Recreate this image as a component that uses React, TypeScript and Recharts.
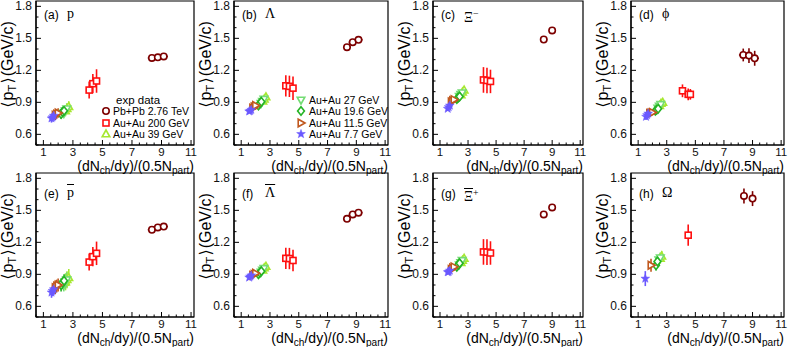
import React from 'react';
import { ScatterChart, Scatter, XAxis, YAxis, ErrorBar, ReferenceArea } from 'recharts';

// [system, x, y, ex, ey]
type Row = [string, number, number, number, number];

const SYSTEMS = ['pb', 'au200', 'au39', 'au27', 'au196', 'au115', 'au77'];
const SYS_LABELS: Record<string, string> = {
  pb: 'Pb+Pb 2.76 TeV',
  au200: 'Au+Au 200 GeV',
  au39: 'Au+Au 39 GeV',
  au27: 'Au+Au 27 GeV',
  au196: 'Au+Au 19.6 GeV',
  au115: 'Au+Au 11.5 GeV',
  au77: 'Au+Au 7.7 GeV',
};
const SYS_COLORS: Record<string, string> = {
  pb: '#7d0000',
  au200: '#ff1010',
  au39: '#a6e830',
  au27: '#74dc74',
  au196: '#24b424',
  au115: '#c0581e',
  au77: '#6a58ff',
};
const SYS_MARKERS: Record<string, string> = {
  pb: 'circle',
  au200: 'square',
  au39: 'triUp',
  au27: 'triDown',
  au196: 'diamond',
  au115: 'triRight',
  au77: 'star',
};

const PROTON: Row[] = [
  ['pb', 8.35, 1.316, 0.28, 0.02], ['pb', 8.75, 1.322, 0.28, 0.02], ['pb', 9.15, 1.33, 0.28, 0.02],
  ['au200', 4.1, 1.015, 0.22, 0.08], ['au200', 4.35, 1.075, 0.22, 0.09], ['au200', 4.6, 1.1, 0.22, 0.11],
  ['au39', 2.5, 0.82, 0.08, 0.05], ['au39', 2.6, 0.84, 0.08, 0.05], ['au39', 2.72, 0.86, 0.08, 0.05],
  ['au27', 2.38, 0.8, 0.08, 0.05], ['au27', 2.48, 0.82, 0.08, 0.05], ['au27', 2.58, 0.84, 0.08, 0.05],
  ['au196', 2.2, 0.79, 0.08, 0.045], ['au196', 2.3, 0.81, 0.08, 0.045], ['au196', 2.4, 0.82, 0.08, 0.045],
  ['au115', 1.8, 0.78, 0.07, 0.045], ['au115', 1.9, 0.79, 0.07, 0.045], ['au115', 2.0, 0.8, 0.07, 0.045],
  ['au77', 1.55, 0.75, 0.07, 0.04], ['au77', 1.62, 0.76, 0.07, 0.04], ['au77', 1.7, 0.775, 0.07, 0.04],
];

const LAMBDA: Row[] = [
  ['pb', 8.35, 1.417, 0.28, 0.015], ['pb', 8.75, 1.464, 0.28, 0.015], ['pb', 9.15, 1.486, 0.28, 0.015],
  ['au200', 4.1, 1.055, 0.22, 0.1], ['au200', 4.35, 1.05, 0.22, 0.1], ['au200', 4.6, 1.033, 0.22, 0.11],
  ['au39', 2.5, 0.91, 0.08, 0.015], ['au39', 2.6, 0.93, 0.08, 0.015], ['au39', 2.72, 0.95, 0.08, 0.015],
  ['au27', 2.38, 0.89, 0.08, 0.015], ['au27', 2.48, 0.91, 0.08, 0.015], ['au27', 2.58, 0.93, 0.08, 0.015],
  ['au196', 2.2, 0.87, 0.08, 0.015], ['au196', 2.3, 0.89, 0.08, 0.015], ['au196', 2.4, 0.905, 0.08, 0.015],
  ['au115', 1.8, 0.845, 0.07, 0.015], ['au115', 1.9, 0.857, 0.07, 0.015], ['au115', 2.0, 0.87, 0.07, 0.015],
  ['au77', 1.55, 0.815, 0.07, 0.015], ['au77', 1.62, 0.82, 0.07, 0.015], ['au77', 1.7, 0.83, 0.07, 0.015],
];

const XI_MINUS: Row[] = [
  ['pb', 8.4, 1.489, 0.25, 0.02], ['pb', 9.0, 1.574, 0.25, 0.02],
  ['au200', 4.1, 1.11, 0.22, 0.12], ['au200', 4.35, 1.105, 0.22, 0.12], ['au200', 4.6, 1.096, 0.22, 0.11],
  ['au39', 2.5, 0.97, 0.08, 0.02], ['au39', 2.6, 0.995, 0.08, 0.02], ['au39', 2.72, 1.015, 0.08, 0.02],
  ['au27', 2.38, 0.955, 0.08, 0.02], ['au27', 2.48, 0.975, 0.08, 0.02], ['au27', 2.58, 0.99, 0.08, 0.02],
  ['au196', 2.2, 0.93, 0.08, 0.02], ['au196', 2.3, 0.945, 0.08, 0.02], ['au196', 2.4, 0.955, 0.08, 0.02],
  ['au115', 1.8, 0.905, 0.07, 0.02], ['au115', 1.9, 0.915, 0.07, 0.02], ['au115', 2.0, 0.925, 0.07, 0.02],
  ['au77', 1.55, 0.84, 0.07, 0.02], ['au77', 1.62, 0.855, 0.07, 0.02], ['au77', 1.7, 0.87, 0.07, 0.02],
];

const PHI: Row[] = [
  ['pb', 8.35, 1.344, 0.3, 0.06], ['pb', 8.75, 1.338, 0.3, 0.07], ['pb', 9.15, 1.313, 0.3, 0.07],
  ['au200', 4.1, 1.008, 0.2, 0.06], ['au200', 4.5, 0.975, 0.2, 0.055], ['au200', 4.65, 0.975, 0.2, 0.05],
  ['au39', 2.5, 0.87, 0.08, 0.025], ['au39', 2.6, 0.89, 0.08, 0.025], ['au39', 2.72, 0.9, 0.08, 0.025],
  ['au27', 2.38, 0.845, 0.08, 0.025], ['au27', 2.48, 0.865, 0.08, 0.025], ['au27', 2.58, 0.88, 0.08, 0.025],
  ['au196', 2.2, 0.82, 0.08, 0.025], ['au196', 2.3, 0.83, 0.08, 0.025], ['au196', 2.4, 0.84, 0.08, 0.025],
  ['au115', 1.8, 0.795, 0.07, 0.02], ['au115', 1.9, 0.8, 0.07, 0.02], ['au115', 2.0, 0.805, 0.07, 0.02],
  ['au77', 1.55, 0.765, 0.07, 0.03], ['au77', 1.62, 0.78, 0.07, 0.03], ['au77', 1.7, 0.795, 0.07, 0.03],
];

const PBAR: Row[] = [
  ['pb', 8.35, 1.318, 0.28, 0.02], ['pb', 8.75, 1.34, 0.28, 0.02], ['pb', 9.15, 1.348, 0.28, 0.02],
  ['au200', 4.1, 1.015, 0.22, 0.08], ['au200', 4.35, 1.066, 0.22, 0.09], ['au200', 4.6, 1.097, 0.22, 0.11],
  ['au39', 2.5, 0.83, 0.08, 0.08], ['au39', 2.6, 0.85, 0.08, 0.08], ['au39', 2.72, 0.87, 0.08, 0.08],
  ['au27', 2.38, 0.81, 0.08, 0.07], ['au27', 2.48, 0.83, 0.08, 0.07], ['au27', 2.58, 0.85, 0.08, 0.07],
  ['au196', 2.2, 0.8, 0.08, 0.06], ['au196', 2.3, 0.82, 0.08, 0.06], ['au196', 2.4, 0.84, 0.08, 0.06],
  ['au115', 1.8, 0.775, 0.07, 0.06], ['au115', 1.9, 0.79, 0.07, 0.06], ['au115', 2.0, 0.8, 0.07, 0.06],
  ['au77', 1.55, 0.73, 0.07, 0.05], ['au77', 1.62, 0.745, 0.07, 0.05], ['au77', 1.7, 0.76, 0.07, 0.05],
];

const LAMBDA_BAR: Row[] = [
  ['pb', 8.35, 1.42, 0.28, 0.015], ['pb', 8.75, 1.462, 0.28, 0.015], ['pb', 9.15, 1.478, 0.28, 0.015],
  ['au200', 4.1, 1.05, 0.22, 0.1], ['au200', 4.35, 1.048, 0.22, 0.1], ['au200', 4.6, 1.03, 0.22, 0.1],
  ['au39', 2.5, 0.94, 0.08, 0.02], ['au39', 2.6, 0.96, 0.08, 0.02], ['au39', 2.72, 0.975, 0.08, 0.02],
  ['au27', 2.38, 0.92, 0.08, 0.02], ['au27', 2.48, 0.94, 0.08, 0.02], ['au27', 2.58, 0.955, 0.08, 0.02],
  ['au196', 2.2, 0.9, 0.08, 0.02], ['au196', 2.3, 0.915, 0.08, 0.02], ['au196', 2.4, 0.93, 0.08, 0.02],
  ['au115', 1.8, 0.89, 0.07, 0.02], ['au115', 1.9, 0.9, 0.07, 0.02], ['au115', 2.0, 0.91, 0.07, 0.02],
  ['au77', 1.55, 0.87, 0.07, 0.02], ['au77', 1.62, 0.88, 0.07, 0.02], ['au77', 1.7, 0.89, 0.07, 0.02],
];

const XI_BAR: Row[] = [
  ['pb', 8.4, 1.462, 0.25, 0.02], ['pb', 9.0, 1.527, 0.25, 0.02],
  ['au200', 4.1, 1.11, 0.22, 0.12], ['au200', 4.35, 1.108, 0.22, 0.12], ['au200', 4.6, 1.1, 0.22, 0.11],
  ['au39', 2.5, 1.01, 0.08, 0.02], ['au39', 2.6, 1.03, 0.08, 0.02], ['au39', 2.72, 1.05, 0.08, 0.02],
  ['au27', 2.38, 0.99, 0.08, 0.02], ['au27', 2.48, 1.01, 0.08, 0.02], ['au27', 2.58, 1.03, 0.08, 0.02],
  ['au196', 2.2, 0.97, 0.08, 0.02], ['au196', 2.3, 0.99, 0.08, 0.02], ['au196', 2.4, 1.005, 0.08, 0.02],
  ['au115', 1.8, 0.945, 0.07, 0.02], ['au115', 1.9, 0.96, 0.07, 0.02], ['au115', 2.0, 0.97, 0.07, 0.02],
  ['au77', 1.55, 0.92, 0.07, 0.02], ['au77', 1.62, 0.925, 0.07, 0.02], ['au77', 1.7, 0.935, 0.07, 0.02],
];

const OMEGA: Row[] = [
  ['pb', 8.4, 1.635, 0.25, 0.07], ['pb', 9.0, 1.61, 0.25, 0.07],
  ['au200', 4.5, 1.267, 0.15, 0.1],
  ['au39', 2.55, 1.05, 0.06, 0.05], ['au39', 2.65, 1.07, 0.06, 0.05],
  ['au27', 2.45, 1.035, 0.06, 0.05], ['au27', 2.55, 1.055, 0.06, 0.05],
  ['au196', 2.25, 0.985, 0.06, 0.05], ['au196', 2.35, 1.02, 0.06, 0.05],
  ['au115', 1.9, 0.985, 0.06, 0.06],
  ['au77', 1.5, 0.86, 0.06, 0.07],
];

const PANELS = [PROTON, LAMBDA, XI_MINUS, PHI, PBAR, LAMBDA_BAR, XI_BAR, OMEGA];
const PANEL_TAGS = ['(a)', '(b)', '(c)', '(d)', '(e)', '(f)', '(g)', '(h)'];

const X_DOMAIN: [number, number] = [0.5, 11.2];
const Y_DOMAIN: [number, number] = [0.5, 1.85];
const X_MAJOR = [1, 3, 5, 7, 9, 11];
const Y_MAJOR = [0.6, 0.9, 1.2, 1.5, 1.8];

const LEGEND_A = ['pb', 'au200', 'au39'];
const LEGEND_B = ['au27', 'au196', 'au115', 'au77'];

// layout
const PLOT_LEFT = [36, 234, 433, 631];
const PLOT_RIGHT = [194, 388, 583, 784];
const PLOT_TOP = [1, 173];
const PLOT_H = 144;
const Y_AXIS_W = 40;
const X_AXIS_H = 30;
const PAD_TOP = 5;
const PAD_RIGHT = 4;

const SANS = '"Liberation Sans", Arial, "DejaVu Sans", sans-serif';
const SERIF = '"Liberation Serif", "DejaVu Serif", serif';

function steps(a: number, b: number, s: number) {
  const out: number[] = [];
  for (let v = a; v <= b + 1e-9; v += s) out.push(Math.round(v * 1000) / 1000);
  return out;
}
const X_TICKS = steps(0.5, 11, 0.5);
const Y_TICKS = steps(0.5, 1.8, 0.1);
const isMajor = (v: number, list: number[]) => list.some((m) => Math.abs(m - v) < 1e-6);

function renderMarker(kind: string, cx: number, cy: number, color: string) {
  const sw = 1.6;
  switch (kind) {
    case 'circle':
      return <circle cx={cx} cy={cy} r={3.2} fill="#fff" stroke={color} strokeWidth={sw} />;
    case 'square':
      return <rect x={cx - 3} y={cy - 3} width={6} height={6} fill="#fff" stroke={color} strokeWidth={sw} />;
    case 'triUp':
      return <polygon points={`${cx},${cy - 4} ${cx - 3.8},${cy + 2.8} ${cx + 3.8},${cy + 2.8}`} fill="#fff" stroke={color} strokeWidth={sw} />;
    case 'triDown':
      return <polygon points={`${cx},${cy + 4} ${cx - 3.8},${cy - 2.8} ${cx + 3.8},${cy - 2.8}`} fill="#fff" stroke={color} strokeWidth={sw} />;
    case 'diamond':
      return <polygon points={`${cx},${cy - 4.2} ${cx + 3.4},${cy} ${cx},${cy + 4.2} ${cx - 3.4},${cy}`} fill="#fff" stroke={color} strokeWidth={sw} />;
    case 'triRight':
      return <polygon points={`${cx + 4},${cy} ${cx - 2.8},${cy - 3.8} ${cx - 2.8},${cy + 3.8}`} fill="#fff" stroke={color} strokeWidth={sw} />;
    default: {
      const pts: string[] = [];
      for (let k = 0; k < 10; k++) {
        const r = k % 2 === 0 ? 4.6 : 1.9;
        const a = -Math.PI / 2 + (k * Math.PI) / 5;
        pts.push(`${cx + r * Math.cos(a)},${cy + r * Math.sin(a)}`);
      }
      return <polygon points={pts.join(' ')} fill={color} stroke={color} strokeWidth={0.5} />;
    }
  }
}

const XTick = (props: any) => {
  const { x, y, payload } = props;
  const major = isMajor(payload.value, X_MAJOR);
  return (
    <g>
      <line x1={x} x2={x} y1={y} y2={y - (major ? 5 : 2.5)} stroke="#000" strokeWidth={1} />
      {major && (
        <text x={x} y={y + 11} textAnchor="middle" fontSize={11.5} fontFamily={SANS} fill="#111">
          {payload.value}
        </text>
      )}
    </g>
  );
};

const YTick = (props: any) => {
  const { x, y, payload } = props;
  const major = isMajor(payload.value, Y_MAJOR);
  return (
    <g>
      <line x1={x} x2={x + (major ? 5 : 2.5)} y1={y} y2={y} stroke="#000" strokeWidth={1} />
      {major && (
        <text x={x - 4} y={y + 4} textAnchor="end" fontSize={12} fontFamily={SANS} fill="#111">
          {payload.value.toFixed(1)}
        </text>
      )}
    </g>
  );
};

function Panel({ index, rows }: { index: number; rows: Row[] }) {
  const col = index % 4;
  const row = Math.floor(index / 4);
  const L = PLOT_LEFT[col];
  const W = PLOT_RIGHT[col] - L;
  const T = PLOT_TOP[row];
  return (
    <div style={{ position: 'absolute', left: L - Y_AXIS_W, top: T - PAD_TOP }}>
      <ScatterChart
        width={Y_AXIS_W + W + PAD_RIGHT}
        height={PAD_TOP + PLOT_H + X_AXIS_H}
        margin={{ top: PAD_TOP, right: PAD_RIGHT, bottom: 0, left: 0 }}
      >
        <XAxis
          type="number"
          dataKey="x"
          domain={X_DOMAIN}
          ticks={X_TICKS}
          interval={0}
          allowDataOverflow
          tickLine={false}
          tickSize={0}
          tickMargin={0}
          tick={(p: any) => <XTick {...p} />}
          axisLine={{ stroke: '#000', strokeWidth: 1.2 }}
          height={X_AXIS_H}
        />
        <YAxis
          type="number"
          dataKey="y"
          domain={Y_DOMAIN}
          ticks={Y_TICKS}
          interval={0}
          allowDataOverflow
          tickLine={false}
          tickSize={0}
          tickMargin={0}
          tick={(p: any) => <YTick {...p} />}
          axisLine={{ stroke: '#000', strokeWidth: 1.2 }}
          width={Y_AXIS_W}
        />
        <ReferenceArea
          x1={X_DOMAIN[0]}
          x2={X_DOMAIN[1]}
          y1={Y_DOMAIN[0]}
          y2={Y_DOMAIN[1]}
          fill="none"
          stroke="#000"
          strokeWidth={1.2}
        />
        {SYSTEMS.map((s) => {
          const data = rows
            .filter((r) => r[0] === s)
            .map((r) => ({ x: r[1], y: r[2], ex: r[3], ey: r[4] }));
          const color = SYS_COLORS[s];
          return (
            <Scatter
              key={s}
              data={data}
              isAnimationActive={false}
              shape={(p: any) => renderMarker(SYS_MARKERS[s], p.cx, p.cy, color)}
            >
              <ErrorBar dataKey="ex" direction="x" width={0} stroke={color} strokeWidth={1.6} />
              <ErrorBar dataKey="ey" direction="y" width={0} stroke={color} strokeWidth={1.6} />
            </Scatter>
          );
        })}
      </ScatterChart>
    </div>
  );
}

function ParticleSymbol({ index }: { index: number }) {
  switch (index) {
    case 0:
      return <span>p</span>;
    case 1:
      return <span>Λ</span>;
    case 2:
      return (
        <span>
          Ξ<span style={{ fontSize: '0.7em', verticalAlign: '0.5em' }}>−</span>
        </span>
      );
    case 3:
      return <span>ϕ</span>;
    case 4:
      return <span style={{ textDecoration: 'overline' }}>p</span>;
    case 5:
      return <span style={{ textDecoration: 'overline' }}>Λ</span>;
    case 6:
      return (
        <span>
          <span style={{ textDecoration: 'overline' }}>Ξ</span>
          <span style={{ fontSize: '0.7em', verticalAlign: '0.5em' }}>+</span>
        </span>
      );
    default:
      return <span>Ω</span>;
  }
}

const sub = (t: string) => <span style={{ fontSize: '0.72em', verticalAlign: '-0.3em' }}>{t}</span>;

function PanelText({ index }: { index: number }) {
  const col = index % 4;
  const row = Math.floor(index / 4);
  const L = PLOT_LEFT[col];
  const R = PLOT_RIGHT[col];
  const T = PLOT_TOP[row];
  const tagY = T + (row === 0 ? 14 : 21);
  return (
    <>
      <div style={{ position: 'absolute', left: L + 8, top: tagY - 8, fontSize: 12, lineHeight: '16px', whiteSpace: 'nowrap' }}>
        {PANEL_TAGS[index]}
      </div>
      <div style={{ position: 'absolute', left: L + 31, top: tagY - 9, fontSize: 14, lineHeight: '16px', fontFamily: SERIF, whiteSpace: 'nowrap' }}>
        <ParticleSymbol index={index} />
      </div>
      <div
        style={{
          position: 'absolute',
          left: L - 26,
          top: T + 64,
          fontSize: 16,
          lineHeight: '15px',
          whiteSpace: 'nowrap',
          transform: 'translate(-50%, -50%) rotate(-90deg)',
        }}
      >
        <span style={{ margin: '0 1px' }}>⟨</span>p{sub('T')}
        <span style={{ margin: '0 1px' }}>⟩</span>(GeV/c)
      </div>
      <div
        style={{
          position: 'absolute',
          left: R - 160,
          width: 160,
          textAlign: 'right',
          top: T + PLOT_H + 13,
          fontSize: 14,
          lineHeight: '16px',
          whiteSpace: 'nowrap',
        }}
      >
        (dN{sub('ch')}/dy)/(0.5N{sub('part')})
      </div>
    </>
  );
}

function LegendRow({ sys, mx, y, tx }: { sys: string; mx: number; y: number; tx: number }) {
  return (
    <>
      <svg style={{ position: 'absolute', left: mx - 6, top: y - 6 }} width={12} height={12}>
        {renderMarker(SYS_MARKERS[sys], 6, 6, SYS_COLORS[sys])}
      </svg>
      <div style={{ position: 'absolute', left: tx, top: y - 7, fontSize: 10.5, lineHeight: '14px', whiteSpace: 'nowrap' }}>
        {SYS_LABELS[sys]}
      </div>
    </>
  );
}

export default function App() {
  const rowsA = [111, 122.5, 133.5];
  const rowsB = [99.5, 111, 122.5, 133.5];
  return (
    <div style={{ position: 'absolute', left: 0, top: 0, width: 789, height: 347, background: '#fff', fontFamily: SANS, color: '#000', overflow: 'hidden' }}>
      {PANELS.map((rows, i) => (
        <Panel key={i} index={i} rows={rows} />
      ))}
      {PANELS.map((_, i) => (
        <PanelText key={'t' + i} index={i} />
      ))}
      <div style={{ position: 'absolute', left: 116, top: 93, fontSize: 11.5, lineHeight: '14px', whiteSpace: 'nowrap' }}>exp data</div>
      {LEGEND_A.map((s, i) => (
        <LegendRow key={s} sys={s} mx={105.5} y={rowsA[i]} tx={113} />
      ))}
      {LEGEND_B.map((s, i) => (
        <LegendRow key={s} sys={s} mx={301} y={rowsB[i]} tx={309} />
      ))}
    </div>
  );
}
